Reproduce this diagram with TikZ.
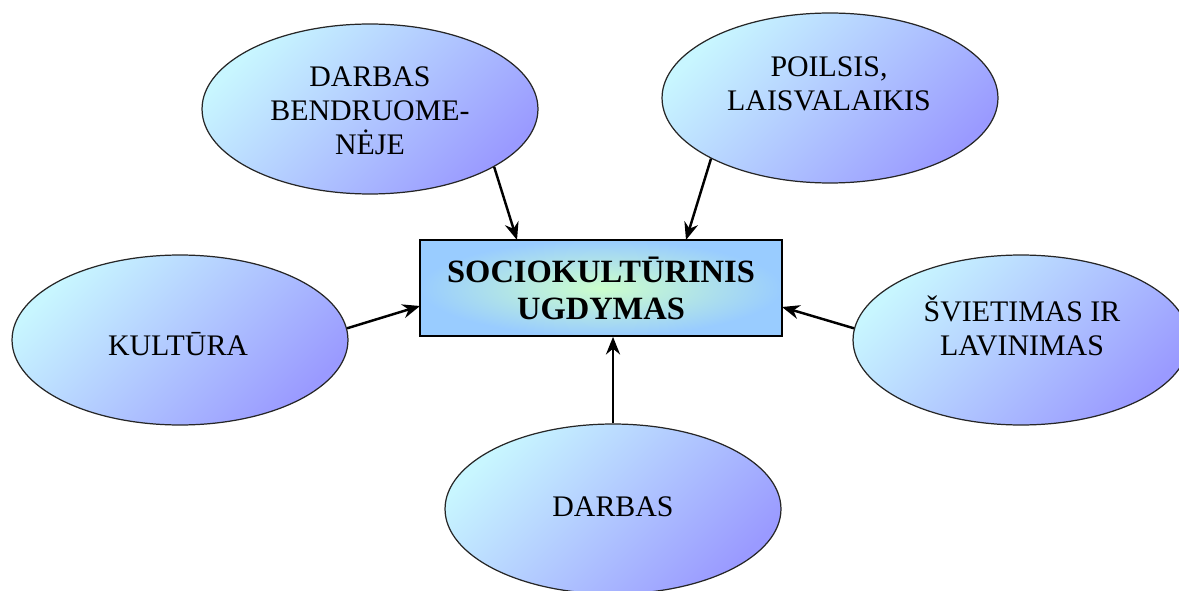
\documentclass[tikz,border=0pt]{standalone}
\usepackage{fontspec}
\setmainfont{Liberation Serif}
\usetikzlibrary{shapes.geometric,arrows.meta}
\definecolor{elLight}{HTML}{C8F6FF}
\definecolor{elDark}{HTML}{9A9AFF}
\definecolor{bxOuter}{HTML}{99CCFF}
\definecolor{bxInner}{HTML}{CCFFCC}
\tikzset{
  oval/.style={ellipse, draw=black!85, line width=0.7pt, inner sep=0pt,
    minimum width=6.72cm, minimum height=3.4cm,
    top color=elLight, bottom color=elDark, shading angle=45},
  ovaltext/.style={align=center, font=\fontsize{17}{19.3}\selectfont, text=black},
  centerbox/.style={rectangle, draw=black, line width=1pt, inner sep=0pt,
    minimum width=7.24cm, minimum height=1.92cm,
    inner color=bxInner, outer color=bxOuter,
    align=center, font=\fontsize{18.5}{21}\selectfont\bfseries},
  arr/.style={line width=1.4pt, -{Stealth[length=10pt,width=8pt]}}
}
\begin{document}
\begin{tikzpicture}[x=0.02cm,y=-0.02cm]
\useasboundingbox (0,0) rectangle (1179,591);
% ovals
\node[oval] (bend) at (370,109) {};
\node[oval] (poil) at (830,98) {};
\node[oval] (svie) at (1021,340) {};
\node[oval] (kult) at (180,340) {};
\node[oval] (darb) at (613,509) {};
% texts
\node[ovaltext] (tbend) at (370,111) {DARBAS\\BENDRUOME-\\NĖJE};
\node[ovaltext] (tpoil) at (829,84) {POILSIS,\\LAISVALAIKIS};
\node[ovaltext] (tsvie) at (1022,326) {ŠVIETIMAS IR\\LAVINIMAS};
\node[ovaltext] (tkult) at (178,344) {KULTŪRA};
\node[ovaltext] (tdarb) at (613,507) {DARBAS};
% center box
\node[centerbox] (box) at (601,288) {SOCIOKULTŪRINIS\\UGDYMAS};
% arrow targets
\coordinate (e1) at (517,240);
\coordinate (e2) at (686,240);
\coordinate (e3) at (420,306);
\coordinate (e4) at (782,307);
% arrows
\draw[arr] (bend.-25) -- (e1);
\draw[arr] (poil.-153) -- (e2);
\draw[arr] (kult.4) -- (e3);
\draw[arr] (svie.176) -- (e4);
\draw[arr] (darb.north) -- (darb.north |- box.south);
\end{tikzpicture}
\end{document}
